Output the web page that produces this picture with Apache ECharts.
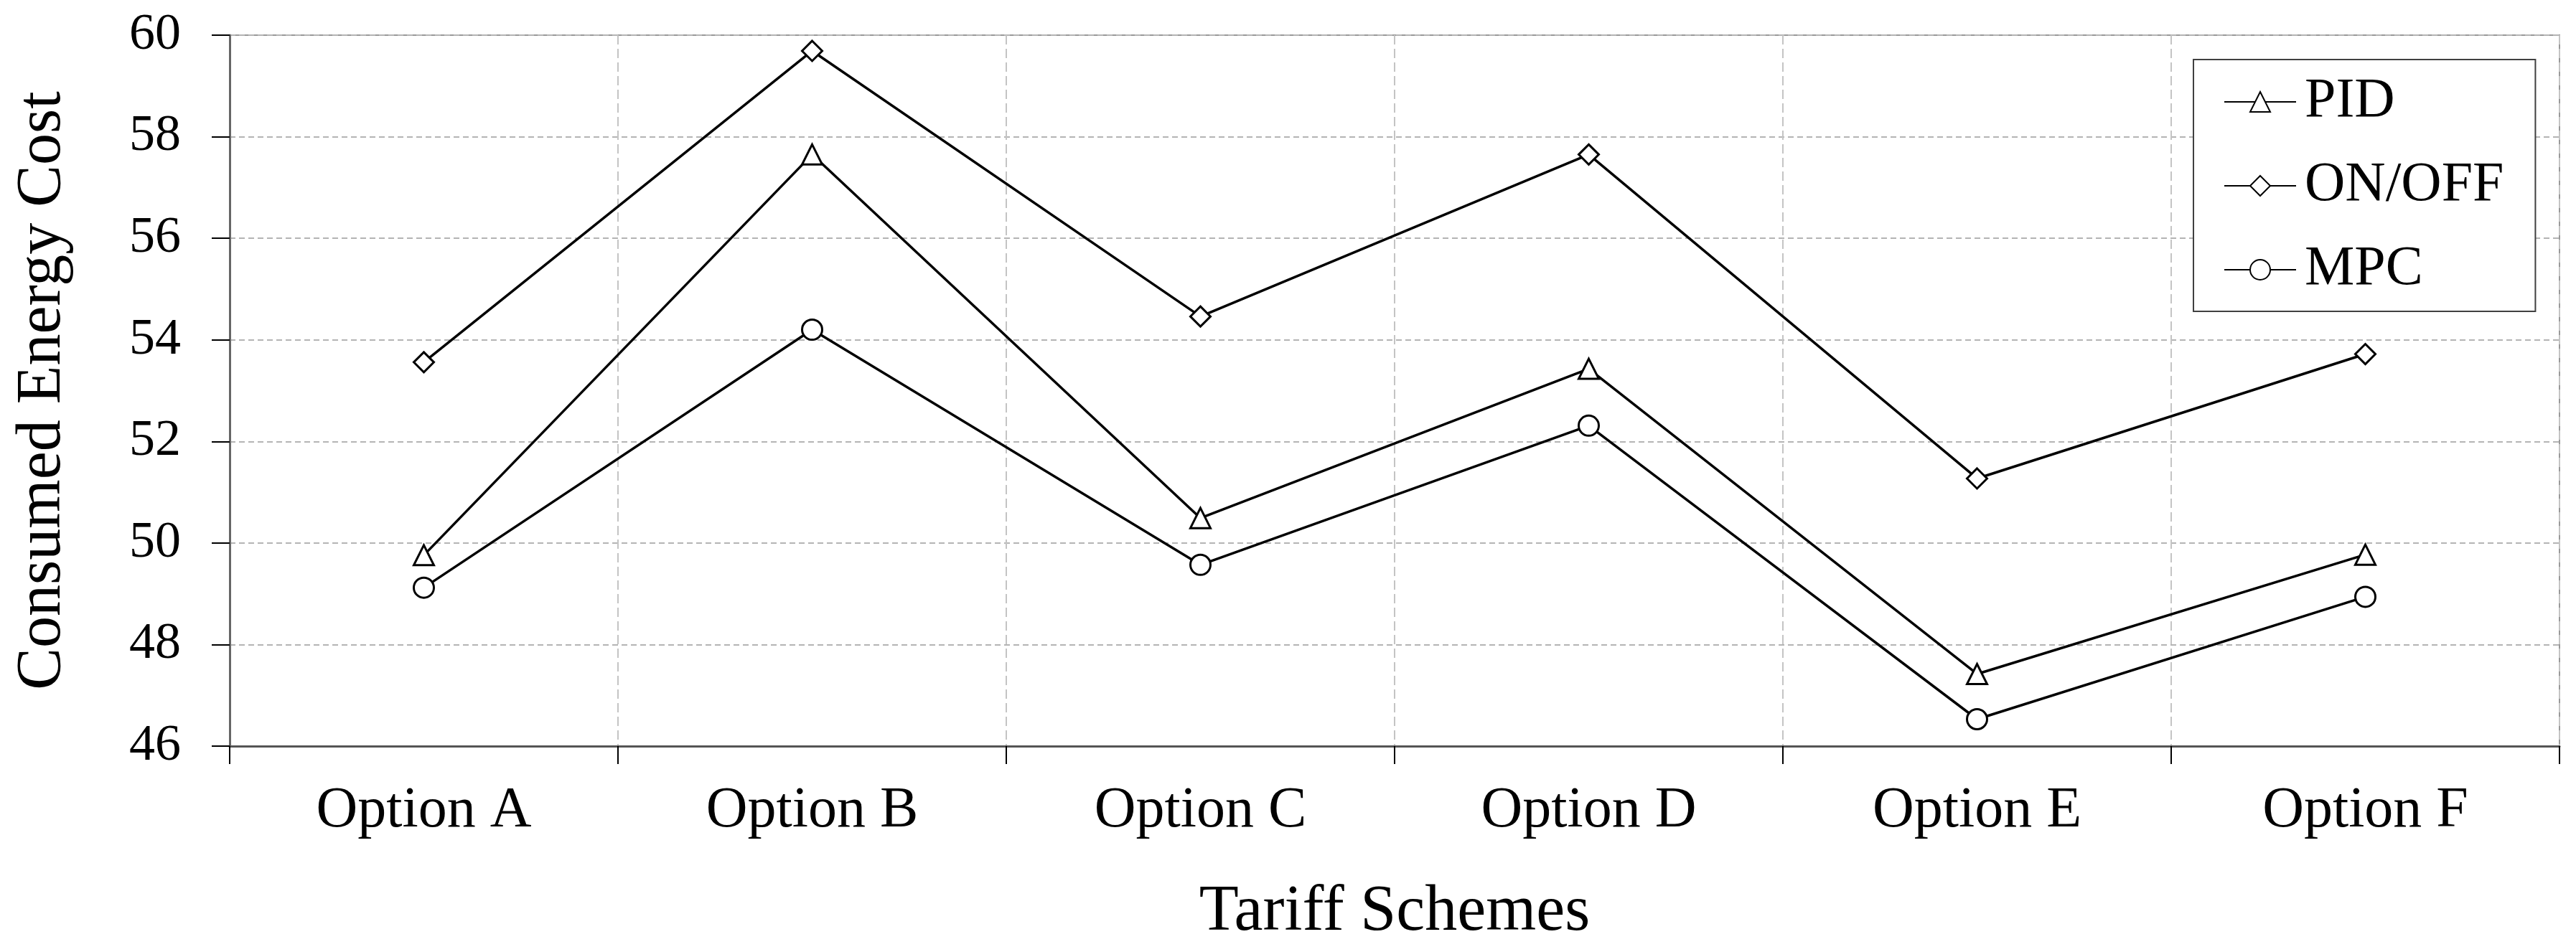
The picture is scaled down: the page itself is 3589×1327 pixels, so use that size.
<!DOCTYPE html>
<html>
<head>
<meta charset="utf-8">
<script src="https://cdn.jsdelivr.net/npm/echarts@6/dist/echarts.min.js"></script>
<style>
html,body{margin:0;padding:0;background:#fff;}
#chart{width:3589px;height:1327px;}
</style>
</head>
<body>
<div id="chart"></div>
<script>
const categories = ['Option A','Option B','Option C','Option D','Option E','Option F'];
const pidValues = [49.76, 57.65, 50.49, 53.43, 47.42, 49.77];
const onoffValues = [53.56, 59.69, 54.46, 57.65, 51.27, 53.72];
const mpcValues = [49.12, 54.20, 49.57, 52.31, 46.53, 48.94];
const seriesNames = ['PID','ON/OFF','MPC'];
const yMin = 46, yMax = 60, yStep = 2;

const FONT = '"Liberation Serif", "Times New Roman", serif';
const chart = echarts.init(document.getElementById('chart'), null, {renderer:'canvas'});

function mkSeries(name, data, symbol){
  return {
    name: name, type: 'line', data: data,
    symbol: symbol, symbolSize: 28, showSymbol: true,
    lineStyle: {color:'#000', width: 3.5},
    itemStyle: {color:'#fff', borderColor:'#000', borderWidth: 3},
    emphasis: {disabled: true},
    animation: false, z: 3
  };
}

chart.setOption({
  animation: false,
  backgroundColor: '#fff',
  grid: {left: 320, right: 23, top: 49, bottom: 287, show: true, borderColor: '#999', borderWidth: 2, backgroundColor: '#fff'},
  legend: {
    orient: 'vertical', left: 3056, top: 83,
    padding: [19, 44, 18, 42],
    itemGap: 37, itemWidth: 100, itemHeight: 35,
    borderColor: '#404040', borderWidth: 2, backgroundColor: '#fff',
    textStyle: {fontFamily: FONT, fontSize: 78, lineHeight: 80, color: '#000', padding: [0,0,0,7]},
    data: seriesNames
  },
  xAxis: {
    type: 'category', data: categories, boundaryGap: true,
    name: 'Tariff Schemes', nameLocation: 'middle', nameGap: 187,
    nameTextStyle: {fontFamily: FONT, fontSize: 90, lineHeight: 90, color: '#000'},
    axisLine: {show: true, lineStyle: {color: '#555', width: 3}},
    axisTick: {show: true, length: 25, lineStyle: {color: '#000', width: 2}},
    axisLabel: {fontFamily: FONT, fontSize: 80, lineHeight: 80, color: '#000', margin: 51},
    splitLine: {show: true, lineStyle: {color: '#c4c4c4', width: 2, type: [13, 6]}}
  },
  yAxis: {
    type: 'value', min: yMin, max: yMax, interval: yStep,
    name: 'Consumed Energy Cost', nameLocation: 'middle', nameGap: 216,
    nameTextStyle: {fontFamily: FONT, fontSize: 88, lineHeight: 88, color: '#000'},
    axisLine: {show: true, lineStyle: {color: '#666', width: 3}},
    axisTick: {show: true, length: 25, lineStyle: {color: '#000', width: 2}},
    axisLabel: {fontFamily: FONT, fontSize: 72, color: '#000', margin: 68},
    splitLine: {show: true, lineStyle: {color: '#b4b4b4', width: 2, type: [8, 5]}}
  },
  series: [
    mkSeries(seriesNames[0], pidValues, 'triangle'),
    mkSeries(seriesNames[1], onoffValues, 'diamond'),
    mkSeries(seriesNames[2], mpcValues, 'circle')
  ]
});
</script>
</body>
</html>
